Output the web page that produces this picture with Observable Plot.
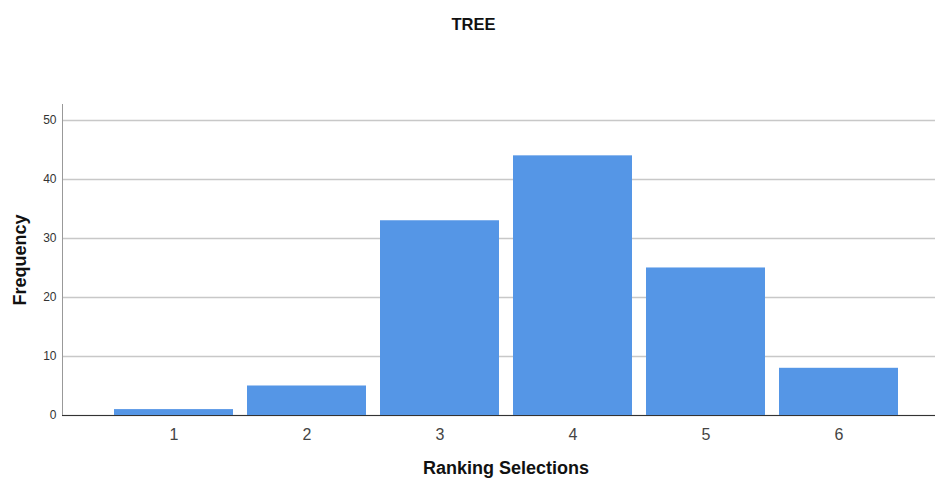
<!DOCTYPE html>
<html><head>
<meta charset="utf-8">
<script src="https://cdn.jsdelivr.net/npm/d3@7"></script>
<script src="https://cdn.jsdelivr.net/npm/@observablehq/plot@0.6"></script>
<style>body{margin:0;background:#fff;font-family:Arial,"Liberation Sans",sans-serif}</style>
</head><body><div id="chart"></div>
<script>
const categories = ["1","2","3","4","5","6"];
const frequencies = [1,5,33,44,25,8];
const yTicks = [0,10,20,30,40,50];
const titleText = "TREE";
const xLabel = "Ranking Selections";
const yLabel = "Frequency";

const data = categories.map((c,i)=>({rank:c, freq:frequencies[i]}));
const chart = Plot.plot({
  width:938, height:481,
  marginLeft:62, marginRight:3, marginTop:104, marginBottom:66,
  style:{fontFamily:"Arial, 'Liberation Sans', sans-serif", background:"#fff", overflow:"visible"},
  x:{domain:categories, insetLeft:51.3, insetRight:36, paddingInner:0.103, paddingOuter:0, label:null},
  y:{domain:[0,52.7], label:null},
  marks:[
    Plot.gridY(yTicks,{stroke:"#c8c8c8", strokeOpacity:1, strokeWidth:1.5}),
    Plot.barY(data,{x:"rank", y:"freq", fill:"#5596e6"}),
    Plot.axisY(yTicks,{tickSize:0, tickPadding:6, fontSize:12, fill:"#333", label:null}),
    Plot.axisX({tickSize:0, tickPadding:13, fontSize:16, fill:"#444", label:null}),
    Plot.frame({anchor:"left", stroke:"#999"}),
    Plot.ruleY([0],{stroke:"#333", strokeWidth:1.2}),
    Plot.text([titleText],{text:d=>d, frameAnchor:"top", dx:-25.5, dy:-86, fontSize:16.5, fontWeight:"bold", fill:"#111"}),
    Plot.text([xLabel],{text:d=>d, frameAnchor:"bottom", dx:7, dy:58, fontSize:18, fontWeight:"bold", fill:"#111"}),
    Plot.text([yLabel],{text:d=>d, frameAnchor:"left", textAnchor:"middle", dx:-42, rotate:-90, fontSize:18, fontWeight:"bold", fill:"#111"})
  ]
});
document.getElementById("chart").append(chart);
</script>
</body></html>
